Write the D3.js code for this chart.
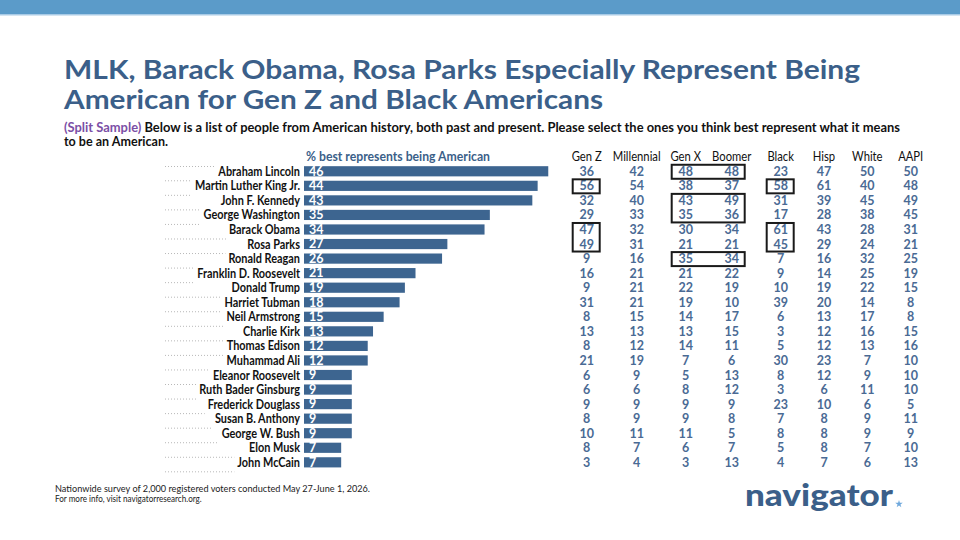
<!DOCTYPE html>
<html><head><meta charset="utf-8">
<script src="https://cdn.jsdelivr.net/npm/d3@7"></script>
<style>html,body{margin:0;padding:0;background:#fff;} svg{display:block;font-family:Lato,"Open Sans",sans-serif;}</style>
</head><body>
<svg id="c" width="960" height="540"></svg>
<script>
// ---------------- DATA ----------------
const people = ["Abraham Lincoln","Martin Luther King Jr.","John F. Kennedy","George Washington","Barack Obama","Rosa Parks","Ronald Reagan","Franklin D. Roosevelt","Donald Trump","Harriet Tubman","Neil Armstrong","Charlie Kirk","Thomas Edison","Muhammad Ali","Eleanor Roosevelt","Ruth Bader Ginsburg","Frederick Douglass","Susan B. Anthony","George W. Bush","Elon Musk","John McCain"];
const total      = [46,44,43,35,34,27,26,21,19,18,15,13,12,12,9,9,9,9,9,7,7];
const columns    = ["Gen Z","Millennial","Gen X","Boomer","Black","Hisp","White","AAPI"];
const genZ       = [36,56,32,29,47,49,9,16,9,31,8,13,8,21,6,6,9,8,10,8,3];
const millennial = [42,54,40,33,32,31,16,21,21,21,15,13,12,19,9,6,9,9,11,7,4];
const genX       = [48,38,43,35,30,21,35,21,22,19,14,13,14,7,5,8,9,9,11,6,3];
const boomer     = [48,37,49,36,34,21,34,22,19,10,17,15,11,6,13,12,9,8,5,7,13];
const black      = [23,58,31,17,61,45,7,9,10,39,6,3,5,30,8,3,23,7,8,5,4];
const hisp       = [47,61,39,28,43,29,16,14,19,20,13,12,12,23,12,6,10,8,8,8,7];
const white      = [50,40,45,38,28,24,32,25,22,14,17,16,13,7,9,11,6,9,9,7,6];
const aapi       = [50,48,49,45,31,21,25,19,15,8,8,15,16,10,10,10,5,11,9,10,13];
const tableValues = [genZ, millennial, genX, boomer, black, hisp, white, aapi];
// highlighted groups: first/last column, first/last row
const highlights = [
  {c0:"Gen Z", c1:"Gen Z", r0:1, r1:1},
  {c0:"Gen Z", c1:"Gen Z", r0:4, r1:5},
  {c0:"Gen X", c1:"Boomer", r0:0, r1:0},
  {c0:"Gen X", c1:"Boomer", r0:2, r1:3},
  {c0:"Gen X", c1:"Boomer", r0:6, r1:6},
  {c0:"Black", c1:"Black", r0:1, r1:1},
  {c0:"Black", c1:"Black", r0:4, r1:5}
];
const titleLines = ["MLK, Barack Obama, Rosa Parks Especially Represent Being","American for Gen Z and Black Americans"];
const subtitleTag = "(Split Sample)";
const subtitleLines = [" Below is a list of people from American history, both past and present. Please select the ones you think best represent what it means","to be an American."];
const barHeader = "% best represents being American";
const footerLines = ["Nationwide survey of 2,000 registered voters conducted May 27-June 1, 2026.","For more info, visit navigatorresearch.org."];
const logoText = "navigator";

// ---------------- STYLE ----------------
const C = {band:"#5b9bc9", bandLine:"#a9cbe6", title:"#3b5f89", bar:"#3d6590", val:"#4a6a94", purple:"#7b4fa6", box:"#1a1a1a"};
const svg = d3.select("#c");

function fit(sel, w){ sel.attr("textLength", w).attr("lengthAdjust","spacingAndGlyphs"); }
function condense(sel, f){ sel.each(function(){ const w=this.getComputedTextLength(); d3.select(this).attr("textLength", w*f).attr("lengthAdjust","spacingAndGlyphs"); }); }

// top band
svg.append("rect").attr("x",0).attr("y",0).attr("width",960).attr("height",14).attr("fill",C.band);
svg.append("rect").attr("x",0).attr("y",14).attr("width",960).attr("height",1.5).attr("fill",C.bandLine);

// title
titleLines.forEach((t,i)=>{
  const el = svg.append("text").attr("x",64).attr("y",79+i*30).attr("fill",C.title)
    .attr("font-size",27).attr("font-weight",700).text(t);
  fit(el, i===0?796:539);
});
// subtitle
const s1 = svg.append("text").attr("x",64).attr("y",132).attr("font-size",12.5).attr("font-weight",700).attr("fill","#111");
s1.append("tspan").attr("fill",C.purple).text(subtitleTag);
s1.append("tspan").text(subtitleLines[0]);
fit(s1, 836);
const s2 = svg.append("text").attr("x",64).attr("y",146).attr("font-size",12.5).attr("font-weight",700).attr("fill","#111").text(subtitleLines[1]);
fit(s2, 104);

// scales
const x = d3.scaleLinear().domain([0,50]).range([304, 304+5.31*50]);
const y = d3.scaleBand().domain(people).range([164, 469.6]).paddingInner(0.3).paddingOuter(0.15);
const colX = d3.scaleOrdinal().domain(columns).range([586.7,636.7,685.7,731.7,780.7,824,867.3,910.7]);
const rowC = i => y(people[i]) + y.bandwidth()/2;

// bar header
const bh = svg.append("text").attr("x",306).attr("y",161).attr("fill",C.title).attr("font-size",12.5).attr("font-weight",700).text(barHeader);
fit(bh, 184);

// labels: right-aligned at x=300, horizontally condensed with a transform
const gLab = svg.append("g");
const labels = gLab.selectAll("text").data(people).join("text")
  .attr("x",0).attr("y",0).attr("text-anchor","end")
  .attr("font-size",13).attr("font-weight",700).attr("fill","#111").text(d=>d);
let mlk = 0; labels.each(function(d){ if(d==="Martin Luther King Jr.") mlk=this.getComputedTextLength(); });
const f = 105/mlk;
const lefts = [];
labels.each(function(d){ const w=this.getComputedTextLength()*f; lefts.push(300-w);
  d3.select(this).attr("transform",`translate(300,${y(d)+y.bandwidth()/2+4.5}) scale(${f},1)`); });

// dotted separators
const gDot = svg.insert("g", ":first-child");
const sepRows = d3.range(-1, people.length);
gDot.selectAll("line").data(sepRows).join("line")
  .attr("x1",165)
  .attr("x2",i=>{ const a = i>=0?lefts[i]:300; const b = i+1<people.length?lefts[i+1]:300; return Math.min(a,b)-3; })
  .attr("y1",i=> i<0 ? 166.5 : rowC(i)+9.5).attr("y2",i=> i<0 ? 166.5 : rowC(i)+9.5)
  .attr("stroke","#b8b8b8").attr("stroke-width",1).attr("stroke-dasharray","1,2");

// bars
svg.append("g").selectAll("rect").data(people).join("rect")
  .attr("x",x(0)).attr("y",d=>y(d)).attr("height",y.bandwidth())
  .attr("width",(d,i)=>x(total[i])-x(0)).attr("fill",C.bar);
svg.append("g").selectAll("text").data(people).join("text")
  .attr("x",x(0)+5).attr("y",d=>y(d)+y.bandwidth()/2+4.3)
  .attr("fill","#fff").attr("font-size",12.5).attr("font-weight",700).text((d,i)=>total[i]);

// table header
svg.append("g").selectAll("text").data(columns).join("text")
  .attr("x",d=>colX(d)).attr("y",161).attr("text-anchor","middle")
  .attr("font-size",12.5).attr("fill","#111").text(d=>d)
  .call(condense, 0.9);

// table values
const gT = svg.append("g");
columns.forEach((c,ci)=>{
  gT.selectAll(null).data(tableValues[ci]).join("text")
    .attr("x",colX(c)).attr("y",(v,i)=>rowC(i)+4.5).attr("text-anchor","middle")
    .attr("font-size",12.5).attr("font-weight",700).attr("fill",C.val).text(v=>v);
});

// highlight boxes
svg.append("g").selectAll("rect").data(highlights).join("rect")
  .attr("x",d=>colX(d.c0)-14).attr("width",d=>colX(d.c1)-colX(d.c0)+27)
  .attr("y",d=>rowC(d.r0)-6.5).attr("height",d=>rowC(d.r1)-rowC(d.r0)+14)
  .attr("fill","none").attr("stroke",C.box).attr("stroke-width",2);

// footer
footerLines.forEach((t,i)=>{
  const el = svg.append("text").attr("x",55).attr("y",492+i*10).attr("font-size",9).attr("fill","#222").text(t);
  if(i===0) fit(el, 315); else condense(el, 0.9);
});

// logo
const lg = svg.append("text").attr("x",745).attr("y",506).attr("font-size",30).attr("font-weight",900).attr("fill",C.title).text(logoText);
fit(lg, 148);
svg.append("path").attr("d", d3.symbol(d3.symbolStar, 18)()).attr("transform","translate(899,504)").attr("fill","#6fa8dc");
</script>
</body></html>
